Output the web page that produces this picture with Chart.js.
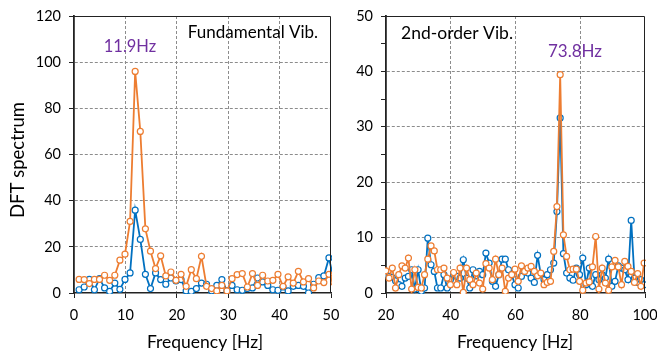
<!DOCTYPE html>
<html><head><meta charset="utf-8">
<script src="https://cdn.jsdelivr.net/npm/chart.js@4/dist/chart.umd.min.js"></script>
<style>
html,body{margin:0;padding:0;background:#fff;overflow:hidden}
#c1{position:absolute;left:0;top:0}
#c2{position:absolute;left:340px;top:0}
</style></head>
<body>
<canvas id="c1" width="340" height="356"></canvas>
<canvas id="c2" width="317" height="356"></canvas>
<script>
// ---- Data ----
const fundFreq = [0.99,1.98,2.98,3.97,4.96,5.95,6.94,7.94,8.93,9.92,10.91,11.90,12.90,13.89,14.88,15.87,16.86,17.86,18.85,19.84,20.83,21.82,22.82,23.81,24.80,25.79,26.78,27.78,28.77,29.76,30.75,31.74,32.74,33.73,34.72,35.71,36.70,37.70,38.69,39.68,40.67,41.66,42.66,43.65,44.64,45.63,46.62,47.62,48.61,49.60,50.59];
const fundOrange = [5.9,5.8,4.1,5.9,5.9,7.7,5.5,7.7,14.2,16.8,31.0,96.0,70.0,27.8,18.1,10.6,16.1,7.4,9.1,5.5,8.1,2.9,10.1,6.2,15.9,2.9,1.9,0.9,3.3,0.9,6.2,8.0,8.4,2.6,8.4,3.3,7.7,5.2,5.5,8.1,2.9,7.0,4.3,9.4,4.8,6.2,2.2,5.2,4.5,8.1,4.5];
const fundBlue = [1.4,2.6,5.9,1.4,6.2,2.2,0.7,4.3,1.6,5.9,8.7,35.9,23.2,8.1,1.9,8.7,5.8,3.8,6.5,5.2,5.8,0.9,0.7,1.9,4.3,3.8,0.9,3.3,5.8,0.9,3.3,1.4,1.2,1.9,2.2,6.5,4.8,3.3,1.4,1.2,2.6,0.9,2.9,3.3,2.9,0.0,3.8,6.7,7.4,15.2,5.0];

const secFreq = [19.95,20.94,21.94,22.94,23.94,24.93,25.93,26.93,27.92,28.92,29.92,30.92,31.91,32.91,33.91,34.91,35.90,36.90,37.90,38.89,39.89,40.89,41.89,42.88,43.88,44.88,45.88,46.87,47.87,48.87,49.87,50.86,51.86,52.86,53.85,54.85,55.85,56.85,57.84,58.84,59.84,60.84,61.83,62.83,63.83,64.82,65.82,66.82,67.82,68.81,69.81,70.81,71.81,72.80,73.80,74.80,75.79,76.79,77.79,78.79,79.78,80.78,81.78,82.78,83.77,84.77,85.77,86.76,87.76,88.76,89.76,90.75,91.75,92.75,93.75,94.74,95.74,96.74,97.74,98.73,99.73];
const secOrange = [4.0,2.7,4.5,0.9,3.3,4.9,4.5,6.3,0.7,4.2, 1.0,0.9,3.3,6.1,8.5,7.6,4.2,4.2,4.5,2.7, 1.5,3.7,1.5,4.5,0.1,4.5,2.4,1.5,3.6,1.8, 0.7,5.3,4.5,2.4,6.1,3.3,4.5,0.3,2.7,3.3, 4.3,2.1,4.9,3.9,4.5,4.8,3.9,3.1,3.6,1.5, 1.9,2.1,7.5,15.6,39.4,10.5,6.6,4.2,4.3,4.3, 2.1,0.5,1.8,2.0,4.7,10.2,0.7,4.5,1.8,0.5, 4.7,5.9,4.7,1.5,5.7,4.8,3.9,1.9,3.5,1.2, 5.4];
const secBlue = [3.3,3.0,2.8,2.2,1.5,1.2,2.7,3.0,4.2,0.7, 4.2,0.3,0.9,9.9,5.1,3.9,0.9,0.9,3.3,0.9, 2.4,3.3,3.0,2.7,6.0,2.7,0.9,4.2,3.1,3.9, 3.3,7.2,5.4,2.1,1.2,3.3,6.1,6.1,4.2,3.3, 1.5,0.9,3.0,4.2,3.6,2.7,1.9,6.8,3.3,2.4, 3.3,4.2,5.4,14.7,31.6,7.1,3.6,2.7,2.3,4.5, 3.3,6.3,1.5,4.5,1.2,3.3,2.4,3.3,2.7,6.1, 1.2,2.1,4.9,4.5,4.2,2.4,13.1,2.7,1.9,2.4, 1.5];

const leftXTicks = [0,10,20,30,40,50];
const leftYTicks = [0,20,40,60,80,100,120];
const rightXTicks = [20,40,60,80,100];
const rightYTicks = [0,10,20,30,40,50];
const rightYMinor = [0,5,10,15,20,25,30,35,40,45,50];

const ORANGE = '#ED7D31', BLUE = '#0070C0', PURPLE = '#7030A0';
const FONT = 'Lato, "Liberation Sans", sans-serif';

function pts(xs, ys){ return xs.map((x,i)=>({x:x, y:ys[i]})); }

function ds(xs, ys, color){
  return {
    data: pts(xs, ys), borderColor: color, backgroundColor: '#fff',
    borderWidth: 1.8, pointRadius: 3, pointBorderWidth: 1.2,
    pointBackgroundColor: '#fff', pointBorderColor: color,
    tension: 0, clip: 1
  };
}

const deco = {
  id: 'deco',
  afterDraw(chart, args, o){
    const ctx = chart.ctx, a = chart.chartArea;
    ctx.save();
    ctx.strokeStyle = '#222'; ctx.lineWidth = 1;
    ctx.beginPath();
    ctx.moveTo(a.left, a.top+0.5); ctx.lineTo(a.right-0.5, a.top+0.5); ctx.lineTo(a.right-0.5, a.bottom);
    ctx.stroke();
    (o.texts||[]).forEach(t=>{
      ctx.save();
      ctx.fillStyle = t.color || '#000';
      ctx.font = t.font;
      ctx.textAlign = t.align || 'center';
      ctx.textBaseline = 'middle';
      ctx.translate(t.x, t.y);
      if (t.rot) ctx.rotate(t.rot);
      ctx.fillText(t.text, 0, 0);
      ctx.restore();
    });
    ctx.restore();
  }
};

function makeChart(id, cfg){
  return new Chart(document.getElementById(id), {
    type: 'line',
    data: { datasets: [ ds(cfg.xs, cfg.orange, ORANGE), ds(cfg.xs, cfg.blue, BLUE) ] },
    options: {
      responsive: false, animation: false,
      layout: { padding: cfg.padding },
      plugins: { legend: {display:false}, tooltip: {enabled:false}, deco: { texts: cfg.texts } },
      scales: {
        x: {
          type: 'linear', min: cfg.xTicks[0], max: cfg.xTicks[cfg.xTicks.length-1],
          afterBuildTicks: s => { s.ticks = cfg.xTicks.map(v=>({value:v})); },
          afterFit: s => { s.height = cfg.xH; s.paddingLeft = 0; s.paddingRight = 0; },
          ticks: { color: '#000', font: {family: FONT, size: 14.5}, padding: 9, maxRotation: 0, autoSkip: false },
          grid: {
            color: c => (c.tick && c.tick.value > cfg.xTicks[0] && c.tick.value < cfg.xTicks[cfg.xTicks.length-1]) ? '#8c8c8c' : 'rgba(0,0,0,0)',
            tickColor: '#222', tickLength: 5, lineWidth: 1
          },
          border: { color: '#222', width: 1.5, dash: [3,2] }
        },
        y: {
          min: cfg.yTicks[0], max: cfg.yTicks[cfg.yTicks.length-1],
          afterBuildTicks: s => { s.ticks = cfg.yAll.map(v=>({value:v})); },
          afterFit: s => { s.width = cfg.yW; s.paddingTop = 0; s.paddingBottom = 0; },
          ticks: { color: '#000', font: {family: FONT, size: 14.5}, padding: 8,
                   callback: v => cfg.yTicks.includes(v) ? String(v) : '' , autoSkip:false},
          grid: {
            color: c => (c.tick && cfg.yTicks.includes(c.tick.value) && c.tick.value > cfg.yTicks[0] && c.tick.value < cfg.yTicks[cfg.yTicks.length-1]) ? '#8c8c8c' : 'rgba(0,0,0,0)',
            tickColor: '#222', tickLength: 5, lineWidth: 1
          },
          border: { color: '#222', width: 1.8, dash: [3,2] }
        }
      }
    },
    plugins: [deco]
  });
}

makeChart('c1', {
  xs: fundFreq, orange: fundOrange, blue: fundBlue,
  xTicks: leftXTicks, yTicks: leftYTicks, yAll: leftYTicks,
  yW: 74, xH: 63, padding: {left:0, right:9, top:16, bottom:0},
  texts: [
    {text:'11.9Hz', x:130, y:47, color:PURPLE, font:'16.5px '+FONT},
    {text:'Fundamental Vib.', x:253, y:33, color:'#000', font:'17px '+FONT},
    {text:'DFT spectrum', x:18, y:160, rot:-Math.PI/2, color:'#000', font:'18.5px '+FONT},
    {text:'Frequency [Hz]', x:205, y:342, color:'#000', font:'17.5px '+FONT}
  ]
});

makeChart('c2', {
  xs: secFreq, orange: secOrange, blue: secBlue,
  xTicks: rightXTicks, yTicks: rightYTicks, yAll: rightYMinor,
  yW: 46, xH: 63, padding: {left:0, right:12, top:16, bottom:0},
  texts: [
    {text:'2nd-order Vib.', x:61, y:33, align:'left', color:'#000', font:'17.5px '+FONT},
    {text:'73.8Hz', x:235, y:52, color:PURPLE, font:'17px '+FONT},
    {text:'Frequency [Hz]', x:175, y:342, color:'#000', font:'17.5px '+FONT}
  ]
});
</script>
</body></html>
